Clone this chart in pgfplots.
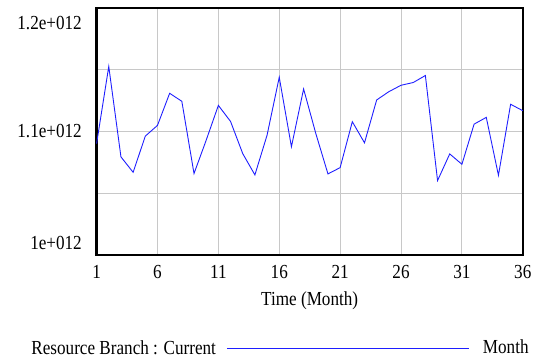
\documentclass[border=0pt]{standalone}
\usepackage{fontspec}
\setmainfont{Liberation Serif}[FakeStretch=0.86]
\usepackage{pgfplots}
\pgfplotsset{compat=1.18}
\definecolor{gridgray}{RGB}{200,200,200}
\definecolor{serieblue}{RGB}{30,30,255}
\pgfplotstableread{
t v
1 1.0902e12
2 1.1526e12
3 1.0794e12
4 1.0669e12
5 1.0962e12
6 1.1049e12
7 1.1309e12
8 1.1244e12
9 1.0659e12
10 1.0929e12
11 1.1211e12
12 1.1081e12
13 1.0821e12
14 1.0648e12
15 1.0970e12
16 1.1439e12
17 1.0876e12
18 1.1344e12
19 1.0984e12
20 1.0656e12
21 1.0707e12
22 1.1079e12
23 1.0908e12
24 1.1255e12
25 1.1322e12
26 1.1374e12
27 1.1396e12
28 1.1453e12
29 1.0602e12
30 1.0818e12
31 1.0734e12
32 1.1059e12
33 1.1114e12
34 1.0645e12
35 1.1220e12
36 1.1168e12
}\datatable
\begin{document}
\fontsize{20}{24}\selectfont
\begin{tikzpicture}
\begin{axis}[
  at={(0,0)}, anchor=south west,
  scale only axis, width=428pt, height=248pt,
  xmin=1, xmax=36, ymin=1e12, ymax=1.2e12,
  xtick={1,6,11,16,21,26,31,36},
  ytick={1e12,1.1e12,1.2e12},
  minor ytick={1.05e12,1.15e12},
  yticklabels={1e+012,1.1e+012,1.2e+012},
  scaled y ticks=false,
  major tick length=0pt, minor tick length=0pt,
  grid=both,
  major grid style={gridgray, line width=1pt},
  minor grid style={gridgray, line width=1pt},
  axis line style={black, line width=2.2pt},
  /pgf/number format/assume math mode=true,
  xticklabel style={yshift=-4pt},
  yticklabel style={anchor=east, xshift=-8pt,
    yshift={\ticknum==0 ? 12 : (\ticknum==2 ? -15 : 0)}},
  xlabel={Time (Month)},
  xlabel style={at={(rel axis cs:0.5,0)}, anchor=center, yshift=-46pt},
  legend style={at={(rel axis cs:-0.165,-0.38)}, anchor=west, draw=none, fill=none},
  legend plot pos=right,
  legend image code/.code={\path (0pt,0pt); \draw[#1] (9pt,0pt) -- (252pt,0pt);},
  clip=false,
]
\addplot[serieblue, line width=0.9pt] table[x=t, y=v] {\datatable};
\addlegendentry{Resource Branch : Current}
\node[anchor=west, inner sep=0pt, yshift=2pt] at (rel axis cs:0.906,-0.38) {Month};
\end{axis}
\path[use as bounding box] (-97pt,-105pt) rectangle (441pt,256pt);
\end{tikzpicture}
\end{document}
